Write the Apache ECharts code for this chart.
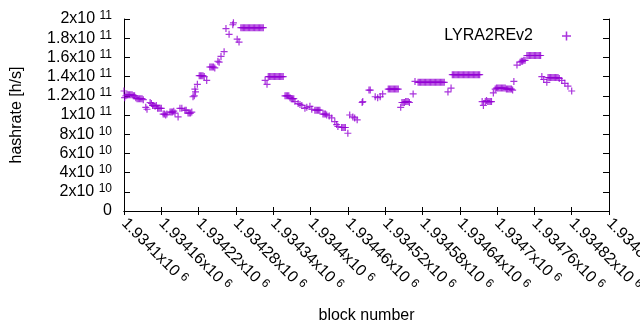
<!DOCTYPE html>
<html><head><meta charset="utf-8">
<script src="https://cdn.jsdelivr.net/npm/echarts@6/dist/echarts.min.js"></script>
<style>html,body{margin:0;padding:0;background:#fff}#c{width:640px;height:330px}</style>
</head><body><div id="c"></div>
<script>
const seriesName = 'LYRA2REv2';
const blockNumbers = [
1934100,1934101,1934103,1934105,1934107,1934109,1934111,1934113,1934115,1934117,1934119,1934121,1934123,1934125,1934127,1934129,1934131,
1934135,1934137,1934142,1934144,1934146,1934148,1934150,1934152,1934154,1934156,1934158,1934160,1934163,1934165,1934167,1934169,
1934174,1934176,1934178,1934180,1934182,1934187,1934190,1934193,1934198,1934200,1934203,1934205,1934207,1934209,
1934211,1934213,1934214,1934215,1934218,1934221,1934223,1934225,1934227,1934229,1934233,1934238,1934240,1934242,1934244,1934246,
1934251,1934253,1934256,1934261,1934264,1934269,1934275,1934276,1934282,1934285,
1934288,1934290,1934292,1934294,1934296,1934298,1934300,1934302,1934304,1934306,1934308,1934310,1934312,1934314,1934316,1934318,1934320,1934322,1934324,
1934327,1934330,1934332,1934334,1934336,1934338,1934340,1934342,1934344,1934346,1934348,1934350,1934352,1934354,1934356,
1934359,1934361,1934363,1934365,1934367,1934369,1934371,1934373,1934375,1934380,1934383,1934386,1934391,1934394,1934399,1934402,
1934407,1934409,1934411,1934413,1934415,1934420,1934422,1934424,1934426,1934430,1934434,1934439,1934442,1934444,1934450,1934452,1934454,1934456,1934460,
1934463,1934468,1934471,1934475,1934483,1934484,1934494,1934496,1934504,1934508,1934512,1934516,
1934525,1934527,1934529,1934531,1934533,1934535,1934537,1934539,1934541,
1934545,1934547,1934549,1934551,1934553,1934555,1934557,1934559,1934565,1934568,
1934573,1934575,1934577,1934579,1934581,1934583,1934585,1934587,1934589,1934591,1934593,1934595,1934597,1934599,1934601,1934603,1934605,1934607,1934609,1934611,1934613,1934615,
1934621,1934626,
1934628,1934630,1934632,1934634,1934636,1934638,1934640,1934642,1934644,1934646,1934648,1934650,1934652,1934654,1934656,1934658,1934660,1934662,1934664,1934666,1934668,1934670,1934672,
1934676,1934678,1934681,1934683,1934685,1934687,1934689,1934691,1934694,
1934697,1934699,1934701,1934703,1934705,1934707,1934709,1934711,1934713,1934715,1934717,1934719,1934721,1934723,1934725,1934727,
1934732,1934737,1934739,1934741,1934743,1934745,
1934748,1934750,1934752,1934754,1934756,1934758,1934760,1934762,1934764,1934766,1934768,1934770,
1934772,1934775,1934780,
1934782,1934784,1934786,1934788,1934790,1934792,1934794,1934796,1934798,1934800,
1934804,1934809,1934814,1934820
];
// hashrate in units of 1e9 h/s
const hashrateG = [
125,118,120,121,121,121,121,121,120,120,118,117,117,117,117,117,116,
108,106,113,112,110,110,109,110,107,107,107,107,101,101,100,101,
103,103,103,104,102,98,107,107,105,105,102,102,102,103,
119,120,127,124,132,141,141,141,141,140,136,150,150,150,150,149,
156,155,161,166,190,184,194,196,179,176,
191,191,191,191,191,191,191,191,191,191,191,191,191,191,191,191,191,191,191,
136,132,140,140,140,140,140,140,140,140,140,140,140,140,140,
120,120,120,120,118,117,117,117,114,112,111,110,107,108,109,106,
105,105,105,105,105,101,101,101,100,99,97,93,90,88,87,87,87,87,81,
100,98,97,95,113,114,126,126,119,118,119,122,
127,127,127,127,127,127,127,127,127,
108,113,113,113,114,114,114,113,122,135,
134,134,134,134,134,134,134,134,134,134,134,134,134,134,134,134,134,134,134,134,134,134,
124,128,
142,142,142,142,142,142,142,142,142,142,142,142,142,142,142,142,142,142,142,142,142,142,142,
114,110,114,115,114,114,114,114,123,
127,128,128,128,128,128,128,128,128,127,127,127,127,127,126,135,
152,155,156,156,157,157,
162,162,162,162,162,162,162,162,162,162,162,162,
140,137,134,
139,139,139,139,139,139,139,139,139,138,
136,133,130,125
];
if (blockNumbers.length !== hashrateG.length) throw new Error('length mismatch ' + blockNumbers.length + ' vs ' + hashrateG.length);
const xMin = 1934100, xMax = 1934880, xStep = 60;
const xTickMantissas = ['1.9341','1.93416','1.93422','1.93428','1.93434','1.9344','1.93446','1.93452','1.93458','1.93464','1.9347','1.93476','1.93482','1.93488'];
const yTickLabels = [['0',''],['2x10','10'],['4x10','10'],['6x10','10'],['8x10','10'],['1x10','11'],['1.2x10','11'],['1.4x10','11'],['1.6x10','11'],['1.8x10','11'],['2x10','11']];
const yMax = 2e11, yStep = 2e10;

const color = '#9400d3';
const plus = 'path://M0,2.9H7V4.1H0Z M2.9,0H4.1V7H2.9Z';
const FONT = 'Liberation Sans';

const data = blockNumbers.map((b, i) => [b, hashrateG[i] * 1e9]);

const chart = echarts.init(document.getElementById('c'), null, {renderer: 'canvas'});
const axisLine = {show: true, lineStyle: {color: '#000', width: 1}};
chart.setOption({
  animation: false,
  backgroundColor: '#fff',
  textStyle: {fontFamily: FONT},
  grid: {left: 124, right: 31, top: 19, bottom: 119, containLabel: false, outerBoundsMode: 'none'},
  legend: {
    data: [seriesName], right: 64, top: 23, align: 'right',
    itemWidth: 9, itemHeight: 9, icon: plus,
    formatter: n => '{t|' + n + '}{g|}',
    textStyle: {fontFamily: FONT, color: '#000', rich: {t: {fontSize: 16, fontFamily: FONT, color: '#000'}, g: {width: 24}}}
  },
  xAxis: [{
    type: 'value', min: xMin, max: xMax, interval: xStep, position: 'bottom',
    axisLine, splitLine: {show: false},
    axisTick: {show: true, inside: true, length: 4, lineStyle: {color: '#000'}},
    name: 'block number', nameLocation: 'middle', nameGap: 97,
    nameTextStyle: {fontSize: 16, color: '#000', fontFamily: FONT},
    axisLabel: {
      rotate: -45, margin: 10, showMinLabel: true, showMaxLabel: true, hideOverlap: false,
      formatter: v => {
        const i = Math.round((v - xMin) / xStep);
        return '{a|' + xTickMantissas[i] + 'x10 }{s|6}';
      },
      rich: {
        a: {fontSize: 16, lineHeight: 18, color: '#000', fontFamily: FONT},
        s: {fontSize: 12, lineHeight: 10, verticalAlign: 'top', color: '#000', fontFamily: FONT}
      }
    }
  }, {
    type: 'value', min: xMin, max: xMax, interval: xStep, position: 'top',
    axisLine, splitLine: {show: false}, axisLabel: {show: false},
    axisTick: {show: true, inside: true, length: 4, lineStyle: {color: '#000'}}
  }],
  yAxis: [{
    type: 'value', min: 0, max: yMax, interval: yStep, position: 'left',
    axisLine, splitLine: {show: false},
    axisTick: {show: true, inside: true, length: 6, lineStyle: {color: '#000'}},
    name: 'hashrate [h/s]', nameLocation: 'middle', nameGap: 99,
    nameTextStyle: {fontSize: 16, color: '#000', fontFamily: FONT},
    axisLabel: {
      margin: 12,
      formatter: v => {
        const i = Math.round(v / yStep);
        const t = yTickLabels[i];
        return t[1] ? '{a|' + t[0] + ' }{s|' + t[1] + '}' : '{a|' + t[0] + '}';
      },
      rich: {
        a: {fontSize: 16, lineHeight: 18, color: '#000', fontFamily: FONT},
        s: {fontSize: 12, lineHeight: 10, verticalAlign: 'top', color: '#000', fontFamily: FONT}
      }
    }
  }, {
    type: 'value', min: 0, max: yMax, interval: yStep, position: 'right',
    axisLine, splitLine: {show: false}, axisLabel: {show: false},
    axisTick: {show: true, inside: true, length: 6, lineStyle: {color: '#000'}}
  }],
  series: [{
    name: seriesName, type: 'scatter', data: data,
    symbol: plus, symbolSize: 7,
    itemStyle: {color: color}, emphasis: {disabled: true}
  }]
});
</script></body></html>
